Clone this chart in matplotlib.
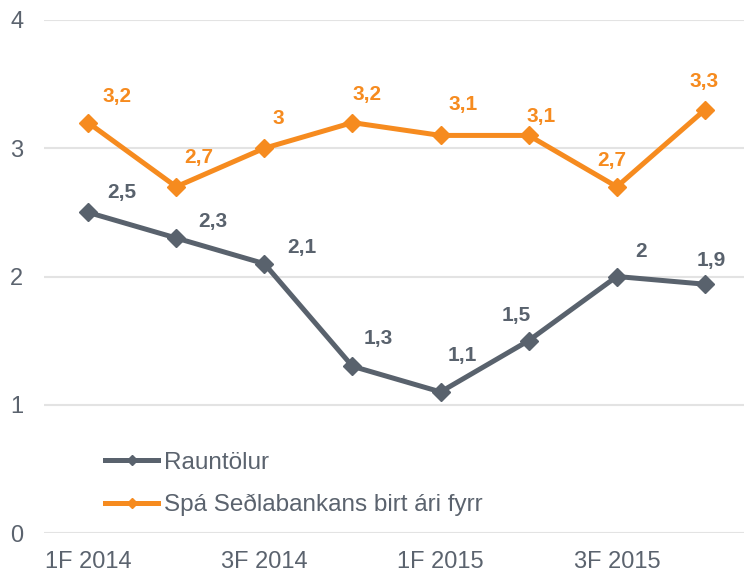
import matplotlib.pyplot as plt

plt.rcParams['font.family'] = ['Liberation Sans', 'DejaVu Sans']

# Data
quarters = ['1F 2014', '2F 2014', '3F 2014', '4F 2014',
            '1F 2015', '2F 2015', '3F 2015', '4F 2015']
rauntolur = [2.5, 2.3, 2.1, 1.3, 1.1, 1.5, 2.0, 1.94]
spa = [3.2, 2.7, 3.0, 3.2, 3.1, 3.1, 2.7, 3.3]

# label offsets in pixels (dx, dy up)
off_raun = [(34, 20), (37, 17), (38, 16), (26, 28), (22, 36), (-12, 25), (24, 25), (6, 24)]
off_spa = [(29, 26), (23, 29), (14, 30), (15, 28), (23, 31), (12, 19), (-5, 26), (-1, 28)]

c_gray = '#59626d'
c_orange = '#f68b1f'
c_text = '#5b636e'


def fmt(v):
    s = f'{v:.1f}'.rstrip('0').rstrip('.')
    return s.replace('.', ',')


fig = plt.figure(figsize=(7.44, 5.73), dpi=100)
ax = fig.add_axes([44 / 744, 40 / 573, 705 / 744, 513 / 573])

x = list(range(len(quarters)))
ax.plot(x, rauntolur, color=c_gray, lw=3.6, marker='D', ms=9, label='Rauntölur')
ax.plot(x, spa, color=c_orange, lw=3.6, marker='D', ms=9, label='Spá Seðlabankans birt ári fyrr')

for xi, v, o in zip(x, rauntolur, off_raun):
    ax.annotate(fmt(v), (xi, v), xytext=o, textcoords='offset pixels',
                ha='center', va='center', fontsize=15, fontweight='bold', color=c_gray)
for xi, v, o in zip(x, spa, off_spa):
    ax.annotate(fmt(v), (xi, v), xytext=o, textcoords='offset pixels',
                ha='center', va='center', fontsize=15, fontweight='bold', color=c_orange)

ax.set_xlim(-0.5, 7.5)
ax.set_ylim(0, 4)
ax.set_yticks([0, 1, 2, 3, 4])
ax.set_xticks(x[::2])
ax.set_xticklabels(quarters[::2])
ax.grid(axis='y', color='#e3e3e3', lw=1.5)
ax.set_axisbelow(True)
for s in ax.spines.values():
    s.set_visible(False)
ax.tick_params(axis='both', length=0, labelsize=17, colors=c_text)
ax.tick_params(axis='y', pad=15)
ax.tick_params(axis='x', pad=13)

leg = ax.legend(loc='upper left', bbox_to_anchor=(0.0865, 0.158), frameon=False,
                fontsize=17.5, handlelength=2.2, handletextpad=0.22, labelspacing=0.82,
                borderaxespad=0, borderpad=0, markerscale=0.6)
for t in leg.get_texts():
    t.set_color(c_text)

fig.savefig('out.png', dpi=100)
